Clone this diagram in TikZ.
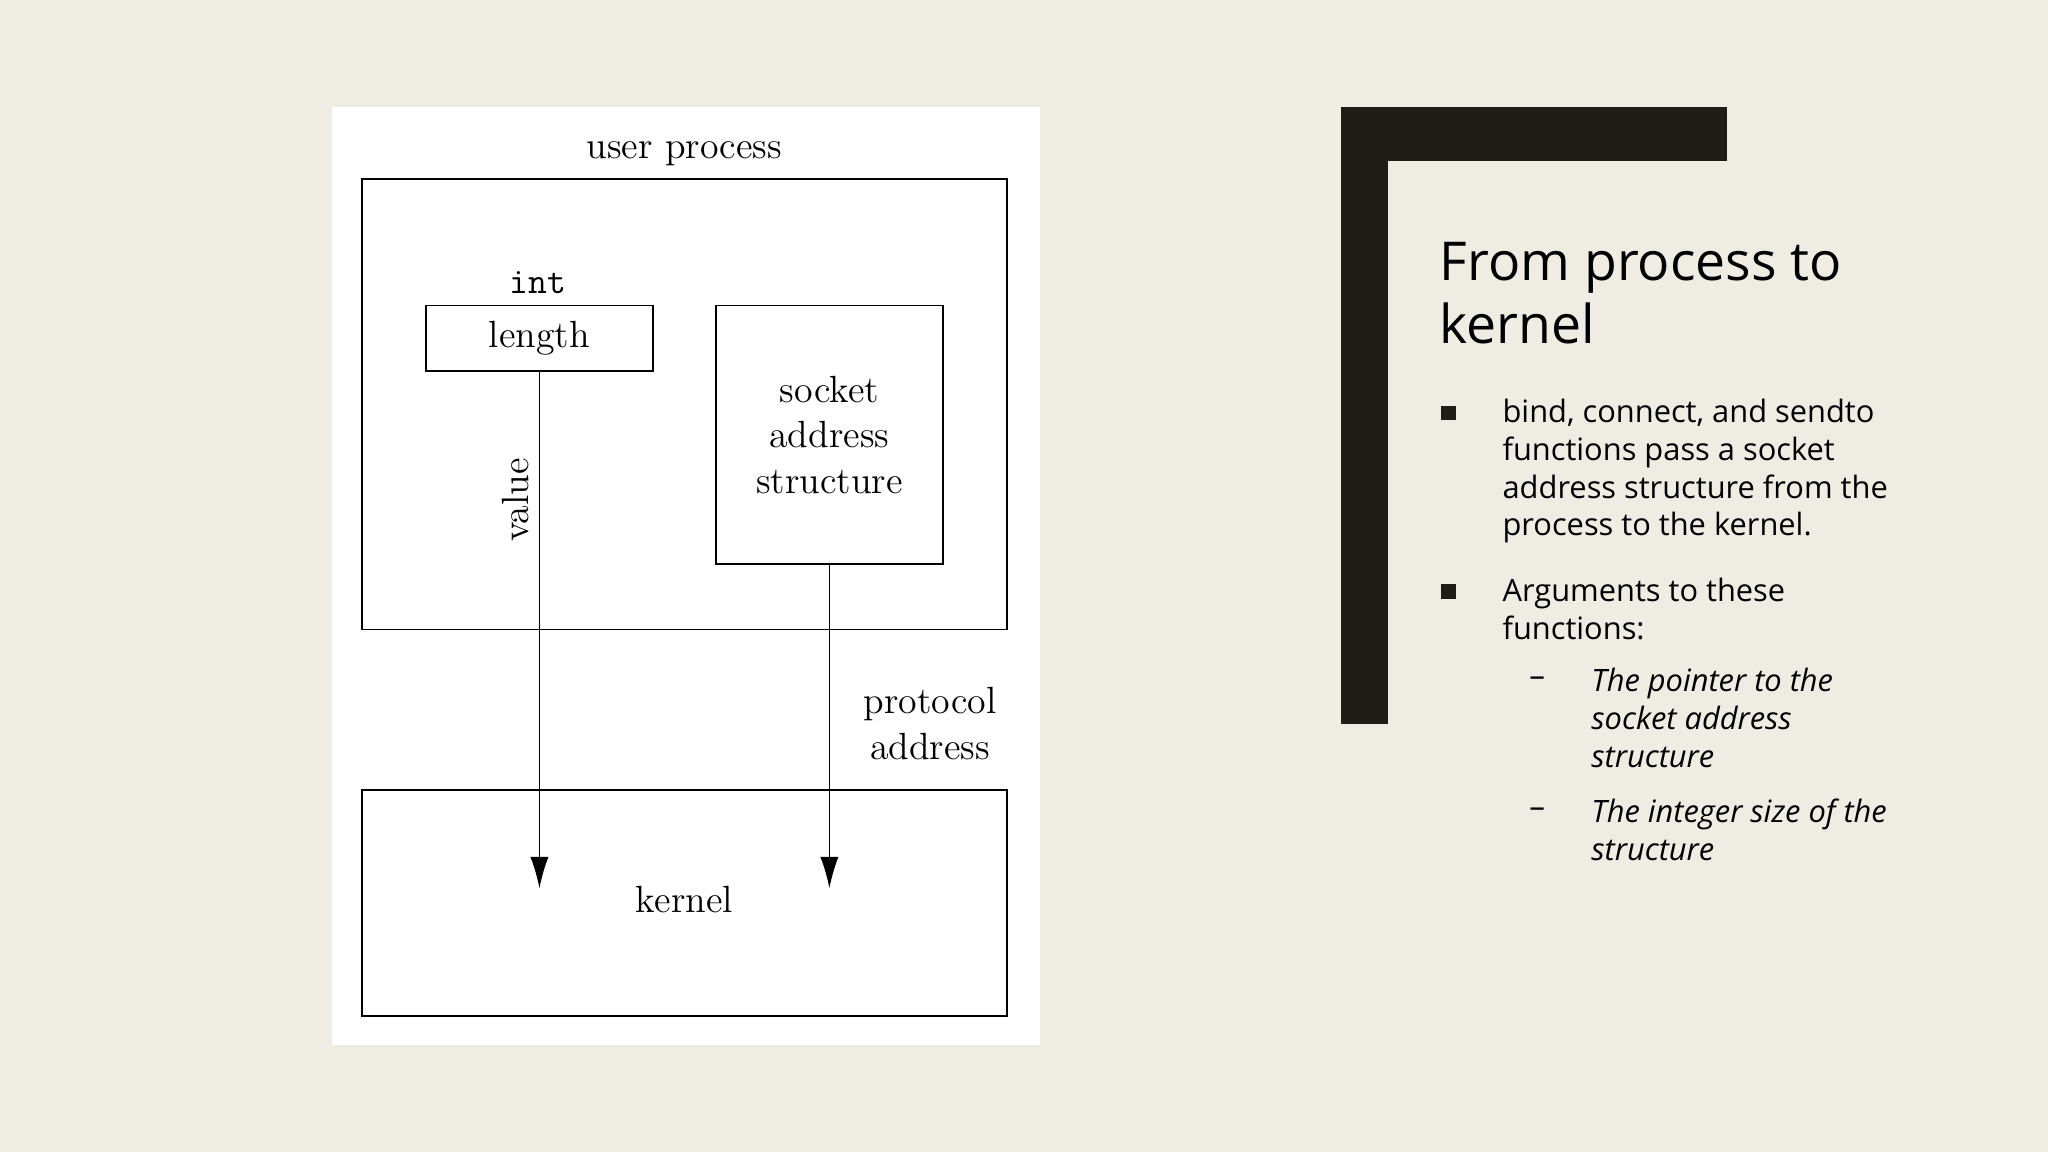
\documentclass[tikz,border=0pt]{standalone}
\usepackage{fontspec}
\newfontfamily\sans{Open Sans}
\usetikzlibrary{arrows.meta}
\definecolor{bg}{HTML}{EFECE4}
\definecolor{dark}{HTML}{1E1E16}
\tikzset{box/.style={draw,line width=0.6pt},
 lbl/.style={font=\fontsize{14.5}{17.5}\selectfont,align=center},
 arr/.style={line width=0.5pt,-{Latex[length=12pt,width=7pt]}},
 rt/.style={anchor=north west,align=left,font=\sans\fontsize{11.8}{14.5}\selectfont}}
\begin{document}
\begin{tikzpicture}[x=0.5pt,y=-0.5pt]
\useasboundingbox (0,0) rectangle (1568,882);
\fill[bg] (0,0) rectangle (1568,882);
\fill[white] (254,82) rectangle (796,800);
\draw[box] (277,137) rectangle (771,482);
\node[lbl] (up) at (524,118) {user process};
\node[box,minimum width=87pt,minimum height=25pt,inner sep=0pt,lbl] (len) at (413,259) {length};
\node[font=\ttfamily\fontsize{14}{16}\selectfont] (int) at (412,216) {int};
\node[box,minimum width=87pt,minimum height=99pt,inner sep=0pt,lbl] (sock) at (635,333) {socket\\address\\structure};
\node[box,minimum width=247pt,minimum height=86.5pt,inner sep=0pt] (kbox) at (524,691.5) {};
\node[lbl] (kern) at (524,689) {kernel};
\coordinate (k1) at (413,680);
\coordinate (k2) at (635,680);
\draw[arr] (len.south) -- (k1);
\draw[arr] (sock.south) -- (k2);
\node[lbl,rotate=90] (val) at (395,383) {value};
\node[lbl,align=center] (pa) at (712,554) {protocol\\address};
\fill[dark] (1027,82) rectangle (1063,554);
\fill[dark] (1027,82) rectangle (1322,123);
\node[anchor=north west,align=left,font=\sans\fontsize{20.5}{24}\selectfont,inner sep=0pt] (title) at (1102,185) {From process to\\kernel};
\node[fill=dark,minimum size=5.5pt,inner sep=0pt] (b1) at (1109,316) {};
\node[fill=dark,minimum size=5.5pt,inner sep=0pt] (b2) at (1109,453) {};
\node[rt,inner sep=0pt] (t1) at (1150,305) {bind, connect, and sendto\\functions pass a socket\\address structure from the\\process to the kernel.};
\node[rt,inner sep=0pt] (t2) at (1150,442) {Arguments to these\\functions:};
\node[font=\sans\fontsize{12}{14.5}\selectfont] (d1) at (1177,522) {–};
\node[font=\sans\fontsize{12}{14.5}\selectfont] (d2) at (1177,622) {–};
\node[rt,inner sep=0pt,font=\sans\itshape\fontsize{11.8}{14.5}\selectfont] (t3) at (1218,511) {The pointer to the\\socket address\\structure};
\node[rt,inner sep=0pt,font=\sans\itshape\fontsize{11.8}{14.5}\selectfont] (t4) at (1218,611) {The integer size of the\\structure};
\end{tikzpicture}
\end{document}
